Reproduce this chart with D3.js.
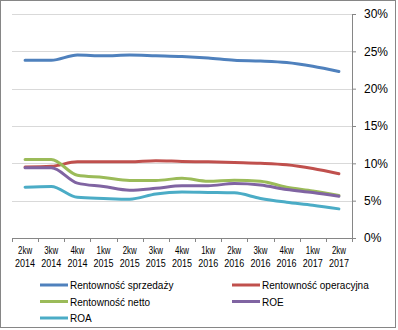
<!DOCTYPE html>
<meta charset="utf-8">
<html>
<head>
    <title>Rentowność</title>
    <script src="https://cdn.jsdelivr.net/npm/d3@7"></script>
    <style>
        body { margin: 0; background: #fff; }
        text { font-family: "Liberation Sans", Arial, sans-serif; fill: #000; }
    </style>
</head>
<body>
<div id="chart"></div>
<script>
    // categories (quarter, year)
    var quarters = ["2kw", "3kw", "4kw", "1kw", "2kw", "3kw", "4kw", "1kw", "2kw", "3kw", "4kw", "1kw", "2kw"];
    var years = ["2014", "2014", "2014", "2015", "2015", "2015", "2015", "2016", "2016", "2016", "2016", "2017", "2017"];

    // series values, in %
    var sprzedazy = [23.8, 23.8, 24.5, 24.4, 24.5, 24.4, 24.3, 24.1, 23.8, 23.7, 23.5, 23.0, 22.3];
    var operacyjna = [9.5, 9.6, 10.2, 10.2, 10.2, 10.35, 10.25, 10.2, 10.1, 10.0, 9.8, 9.3, 8.6];
    var netto = [10.5, 10.5, 8.4, 8.1, 7.7, 7.7, 8.0, 7.6, 7.75, 7.6, 6.8, 6.3, 5.7];
    var roe = [9.4, 9.4, 7.35, 6.9, 6.4, 6.65, 7.0, 7.0, 7.3, 7.1, 6.5, 6.1, 5.6];
    var roa = [6.8, 6.9, 5.45, 5.3, 5.2, 5.9, 6.15, 6.1, 6.05, 5.3, 4.8, 4.4, 3.9];

    var yTicks = [0, 5, 10, 15, 20, 25, 30];

    var series = [
        { name: "Rentowność sprzedaży", values: sprzedazy, color: "#4F81BD" },
        { name: "Rentowność operacyjna", values: operacyjna, color: "#C0504D" },
        { name: "Rentowność netto", values: netto, color: "#9BBB59" },
        { name: "ROE", values: roe, color: "#8064A2" },
        { name: "ROA", values: roa, color: "#4BACC6" }
    ];

    var width = 398, height = 330;
    var plot = { left: 12, right: 352, top: 14, bottom: 238 };

    var svg = d3.select("#chart").append("svg")
        .attr("width", width)
        .attr("height", height);

    // outer border
    svg.append("rect")
        .attr("x", 0.5).attr("y", 0.5)
        .attr("width", width - 3).attr("height", height - 3)
        .attr("fill", "#fff")
        .attr("stroke", "#868686");

    var idx = d3.range(quarters.length);
    var x = d3.scaleBand().domain(idx).range([plot.left, plot.right]).padding(0);
    var y = d3.scaleLinear().domain([0, 30]).range([plot.bottom, plot.top]);

    // gridlines
    svg.append("g").selectAll("line")
        .data(yTicks.filter(function (t) { return t > 0; }))
        .enter().append("line")
        .attr("x1", plot.left).attr("x2", plot.right)
        .attr("y1", function (t) { return Math.round(y(t)) + 0.5; })
        .attr("y2", function (t) { return Math.round(y(t)) + 0.5; })
        .attr("stroke", "#d9d9d9");

    // right y axis
    var yAxis = d3.axisRight(y)
        .tickValues(yTicks)
        .tickSize(4)
        .tickPadding(8)
        .tickFormat(function (t) { return t + "%"; });
    var gy = svg.append("g")
        .attr("transform", "translate(" + plot.right + ",0)")
        .call(yAxis);
    gy.select(".domain").attr("stroke", "#868686");
    gy.selectAll(".tick line").attr("stroke", "#868686");
    gy.selectAll(".tick text").style("font-size", "12px").attr("fill", "#000");

    // x axis: line + ticks at band boundaries
    var gx = svg.append("g");
    gx.append("line")
        .attr("x1", plot.left).attr("x2", plot.right)
        .attr("y1", plot.bottom + 0.5).attr("y2", plot.bottom + 0.5)
        .attr("stroke", "#868686");
    gx.selectAll(".xt")
        .data(d3.range(quarters.length + 1))
        .enter().append("line")
        .attr("class", "xt")
        .attr("x1", function (i) { return Math.round(plot.left + i * x.bandwidth()) + 0.5; })
        .attr("x2", function (i) { return Math.round(plot.left + i * x.bandwidth()) + 0.5; })
        .attr("y1", plot.bottom).attr("y2", plot.bottom + 4)
        .attr("stroke", "#868686");

    var labels = gx.selectAll(".xl")
        .data(idx)
        .enter().append("g")
        .attr("class", "xl")
        .attr("transform", function (i) { return "translate(" + (x(i) + x.bandwidth() / 2) + ",0)"; });
    labels.append("text").attr("text-anchor", "middle").style("font-size", "11px")
        .attr("x", 0).attr("y", 254)
        .attr("textLength", 14).attr("lengthAdjust", "spacingAndGlyphs")
        .text(function (i) { return quarters[i]; });
    labels.append("text").attr("text-anchor", "middle").style("font-size", "11px")
        .attr("x", 0).attr("y", 267)
        .attr("textLength", 20).attr("lengthAdjust", "spacingAndGlyphs")
        .text(function (i) { return years[i]; });

    // lines
    var line = d3.line()
        .x(function (d, i) { return x(i) + x.bandwidth() / 2; })
        .y(function (d) { return y(d); })
        .curve(d3.curveMonotoneX);

    svg.append("g").selectAll("path")
        .data(series)
        .enter().append("path")
        .attr("d", function (s) { return line(s.values); })
        .attr("fill", "none")
        .attr("stroke", function (s) { return s.color; })
        .attr("stroke-width", 3)
        .attr("stroke-linejoin", "round")
        .attr("stroke-linecap", "round");

    // legend
    var legendPos = [[40, 285], [232, 285], [40, 301.5], [232, 301.5], [40, 318]];
    var lg = svg.append("g").selectAll("g")
        .data(series)
        .enter().append("g")
        .attr("transform", function (s, i) { return "translate(" + legendPos[i][0] + "," + legendPos[i][1] + ")"; });
    lg.append("line")
        .attr("x1", 0).attr("x2", 28)
        .attr("y1", 0).attr("y2", 0)
        .attr("stroke", function (s) { return s.color; })
        .attr("stroke-width", 3);
    lg.append("text")
        .attr("x", 30).attr("y", 4)
        .style("font-size", "10px")
        .text(function (s) { return s.name; });
</script>
</body>
</html>
